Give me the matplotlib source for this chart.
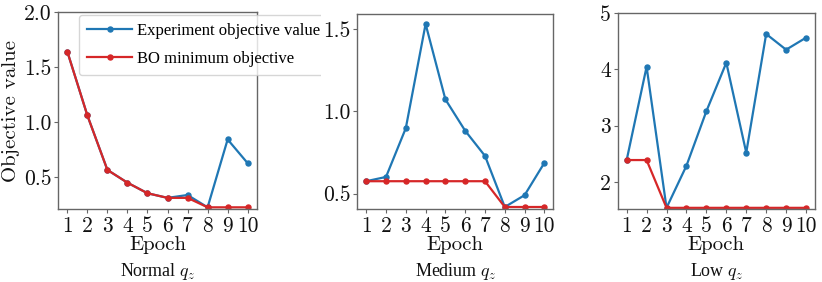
import matplotlib
matplotlib.use("Agg")
import matplotlib.pyplot as plt
from matplotlib.transforms import Bbox, TransformedBbox

epochs = [1, 2, 3, 4, 5, 6, 7, 8, 9, 10]
normal_exp = [1.64, 1.06, 0.564, 0.448, 0.352, 0.31, 0.336, 0.224, 0.841, 0.625]
normal_min = [1.64, 1.06, 0.564, 0.448, 0.352, 0.31, 0.31, 0.224, 0.224, 0.224]
medium_exp = [0.575, 0.601, 0.898, 1.532, 1.073, 0.882, 0.729, 0.418, 0.49, 0.687]
medium_min = [0.575, 0.575, 0.575, 0.575, 0.575, 0.575, 0.575, 0.418, 0.418, 0.418]
low_exp = [2.387, 4.048, 1.536, 2.286, 3.257, 4.12, 2.518, 4.632, 4.352, 4.566]
low_min = [2.387, 2.387, 1.536, 1.536, 1.536, 1.536, 1.536, 1.536, 1.536, 1.536]

titles = ["Normal", "Medium", "Low"]
yticks = [[0.5, 1.0, 1.5, 2.0], [0.5, 1.0, 1.5], [2, 3, 4, 5]]
ytick_labels = [["0.5", "1.0", "1.5", "2.0"], ["0.5", "1.0", "1.5"], ["2", "3", "4", "5"]]
ylims = [(0.206, 2.0), (0.404, 1.593), (1.51, 5.0)]
exp_series = [normal_exp, medium_exp, low_exp]
min_series = [normal_min, medium_min, low_min]

plt.rcParams['mathtext.fontset'] = 'cm'
plt.rcParams['axes.formatter.use_mathtext'] = True

W, H = 822, 282
fig = plt.figure(figsize=(W / 100, H / 100), dpi=100)

boxes = [(58.3, 256.7, 12, 209.3), (357.3, 553.3, 14, 209.3), (617.7, 815, 13.3, 209.3)]
spine_col = '#666666'
blue = '#1f77b4'
red = '#d62728'
cm = 'cmr10'
axes = []
for i, (l, r, t, b) in enumerate(boxes):
    ax = fig.add_axes([l / W, 1 - b / H, (r - l) / W, (b - t) / H])
    axes.append(ax)
    ax.plot(epochs, exp_series[i], color=blue, lw=1.6, marker='o', ms=3.6,
            label='Experiment objective value')
    ax.plot(epochs, min_series[i], color=red, lw=1.6, marker='o', ms=3.6,
            label='BO minimum objective')
    ax.set_ylim(*ylims[i])
    ax.set_yticks(yticks[i])
    ax.set_yticklabels(ytick_labels[i], fontfamily=cm, fontsize=15.5)
    ax.set_xticks(epochs)
    ax.set_xticklabels([str(e) for e in epochs], fontfamily=cm, fontsize=15.5)
    for s in ax.spines.values():
        s.set_color(spine_col)
        s.set_linewidth(1.0)
    ax.tick_params(colors=spine_col, length=3, width=0.8, pad=2, labelcolor='#111111')
    ax.set_xlabel('Epoch', fontfamily=cm, fontsize=15, labelpad=0, color='#111111')
    cx = (l + r) / 2
    fig.text(cx / W, 1 - 271 / H, titles[i] + r' $q_z$', ha='center', va='center',
             fontfamily='Liberation Serif', fontsize=13, color='#111111')

axes[0].set_ylabel('Objective value', fontfamily=cm, fontsize=15, labelpad=3, color='#111111')

leg = axes[0].legend(loc='upper left', bbox_to_anchor=(79 / W, 1 - 15 / H),
                     bbox_transform=fig.transFigure, borderaxespad=0,
                     prop={'family': 'Liberation Serif', 'size': 12},
                     handlelength=2.7, handletextpad=0.3, labelspacing=0.7,
                     borderpad=0.5)
frame = leg.get_frame()
frame.set_clip_box(TransformedBbox(Bbox.from_extents(0, 0, 321 / W, 1), fig.transFigure))
frame.set_clip_on(True)

fig.savefig('out.png', dpi=100)
